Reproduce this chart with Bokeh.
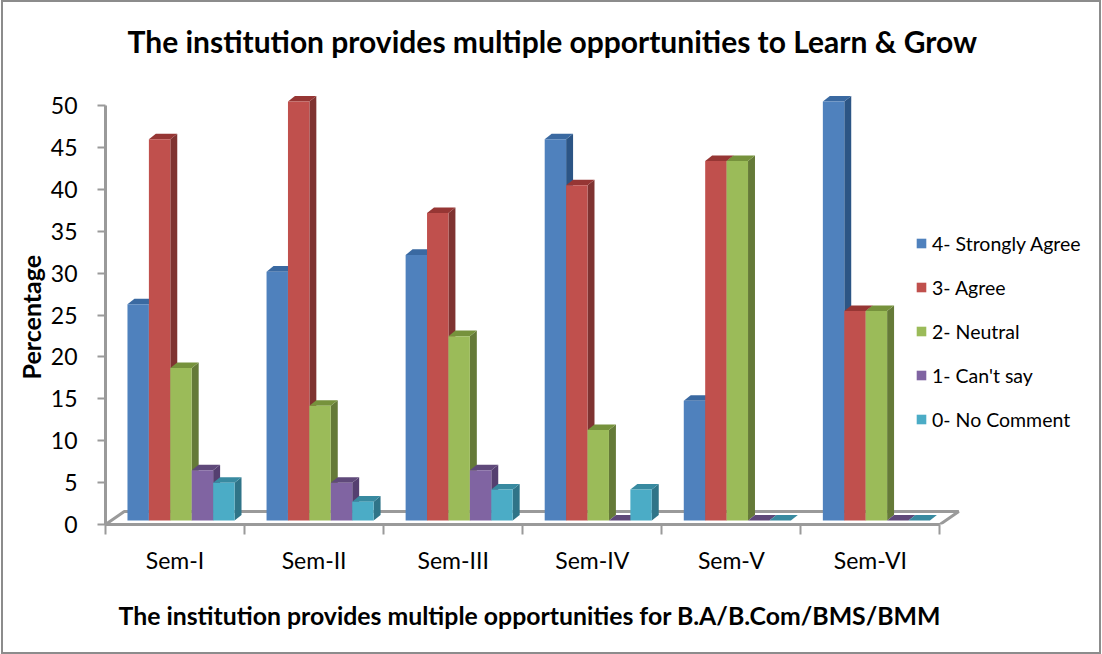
from bokeh.plotting import figure
from bokeh.models import Range1d, FixedTicker, LinearAxis, Legend, LegendItem, Title
from bokeh.embed import file_html
from bokeh.resources import INLINE

semesters = ["Sem-I", "Sem-II", "Sem-III", "Sem-IV", "Sem-V", "Sem-VI"]
strongly_agree = [25.8, 29.7, 31.7, 45.5, 14.3, 50.0]
agree = [45.5, 50.0, 36.7, 40.0, 42.9, 25.0]
neutral = [18.2, 13.7, 22.0, 10.8, 42.9, 25.0]
cant_say = [6.0, 4.5, 6.0, 0.0, 0.0, 0.0]
no_comment = [4.5, 2.25, 3.7, 3.7, 0.0, 0.0]
series_names = ["4- Strongly Agree", "3- Agree", "2- Neutral", "1- Can't say", "0- No Comment"]
series_values = [strongly_agree, agree, neutral, cant_say, no_comment]
front_colors = ["#4F81BD", "#C0504D", "#9BBB59", "#8064A2", "#4BACC6"]
side_colors = ["#2C5585", "#7F3331", "#657A38", "#553F70", "#2F7488"]
top_colors = ["#3A69A1", "#963634", "#76923C", "#5F497A", "#388AA0"]
y_ticks = list(range(0, 55, 5))

FONT = "Lato"
GRAY = "#9A9A9A"
# geometry in data units
BAR_W = 0.154
GROUP_PAD = 0.158
LIFT = 0.48
DX = 0.05
DY = 0.66

p = figure(width=1102, height=654, output_backend="svg", toolbar_location=None,
           x_range=Range1d(0, 7.14), y_range=Range1d(0, 51.8),
           x_axis_type=None, y_axis_type=None,
           min_border_left=105, min_border_right=4, min_border_bottom=130, min_border_top=90,
           background_fill_color="white", border_fill_color="white",
           outline_line_color=None, margin=(0, 0, 0, 0))
p.stylesheets = [":host::after { content: ''; position: absolute; left: 1px; top: 0; right: 1px; bottom: 0;"
                 " border: 2px solid #8C8C8C; box-sizing: border-box; pointer-events: none; z-index: 100; }"]
p.grid.visible = False

p.title = Title(text="The institution provides multiple opportunities to Learn & Grow",
                text_font=FONT, text_font_size="30px", text_font_style="bold", text_color="black",
                align="left", offset=22, standoff=44, vertical_align="top", padding=(0, 0, 0, 8))

# floor
p.line([0, 6], [0, 0], line_color=GRAY, line_width=3)
p.patch([0, 0.135, 6.135, 6], [0, 1.55, 1.55, 0], fill_color="white", line_color=GRAY, line_width=3)

items = []
for s, (name, vals) in enumerate(zip(series_names, series_values)):
    left = [g + GROUP_PAD + s * BAR_W for g in range(6)]
    right = [l + BAR_W for l in left]
    top = [v + LIFT for v in vals]
    p.patches([[r, r + DX, r + DX, r] for r in right],
              [[LIFT, LIFT + DY, t + DY, t] for t in top],
              fill_color=side_colors[s], line_color=None)
    p.patches([[l, r, r + DX, l + DX] for l, r in zip(left, right)],
              [[t, t, t + DY, t + DY] for t in top],
              fill_color=top_colors[s], line_color=None)
    r = p.quad(left=left, right=right, bottom=[LIFT] * 6, top=top,
               fill_color=front_colors[s], line_color=None)
    items.append(LegendItem(label=name, renderers=[r]))

yaxis = LinearAxis(ticker=FixedTicker(ticks=y_ticks), bounds=(0, 50),
                   major_label_text_font=FONT, major_label_text_font_size="23px",
                   major_label_text_color="black", major_label_standoff=20,
                   axis_line_color=GRAY, axis_line_width=3,
                   major_tick_line_color=GRAY, major_tick_line_width=2,
                   major_tick_out=8, major_tick_in=0, minor_tick_out=0, minor_tick_in=0)
p.add_layout(yaxis, "left")
p.add_layout(Title(text="Percentage", text_font=FONT, text_font_size="25px", text_font_style="bold",
                   text_color="black", align="left", offset=145, standoff=4), "left")

xaxis = LinearAxis(ticker=FixedTicker(ticks=[i + 0.5 for i in range(6)], minor_ticks=list(range(7))),
                   bounds=(0, 6),
                   major_label_overrides={i + 0.5: s for i, s in enumerate(semesters)},
                   major_label_text_font=FONT, major_label_text_font_size="23px",
                   major_label_text_color="black", major_label_standoff=11,
                   axis_line_color=GRAY, axis_line_width=3,
                   major_tick_line_color=None, major_tick_out=0, major_tick_in=0,
                   minor_tick_line_color=GRAY, minor_tick_line_width=2,
                   minor_tick_out=10, minor_tick_in=0)
p.add_layout(xaxis, "below")
p.add_layout(Title(text="The institution provides multiple opportunities for B.A/B.Com/BMS/BMM",
                   text_font=FONT, text_font_size="24.8px", text_font_style="bold", text_color="black",
                   align="left", offset=13, standoff=44), "below")

legend = Legend(items=items, location=(810, 93), orientation="vertical",
                background_fill_alpha=0, border_line_color=None,
                glyph_width=12, glyph_height=12, label_standoff=5, spacing=20, label_height=24,
                label_text_font=FONT, label_text_font_size="19.5px", label_text_color="black",
                padding=0, margin=0)
p.add_layout(legend, "center")

open("out.html", "w").write(file_html(p, INLINE))
